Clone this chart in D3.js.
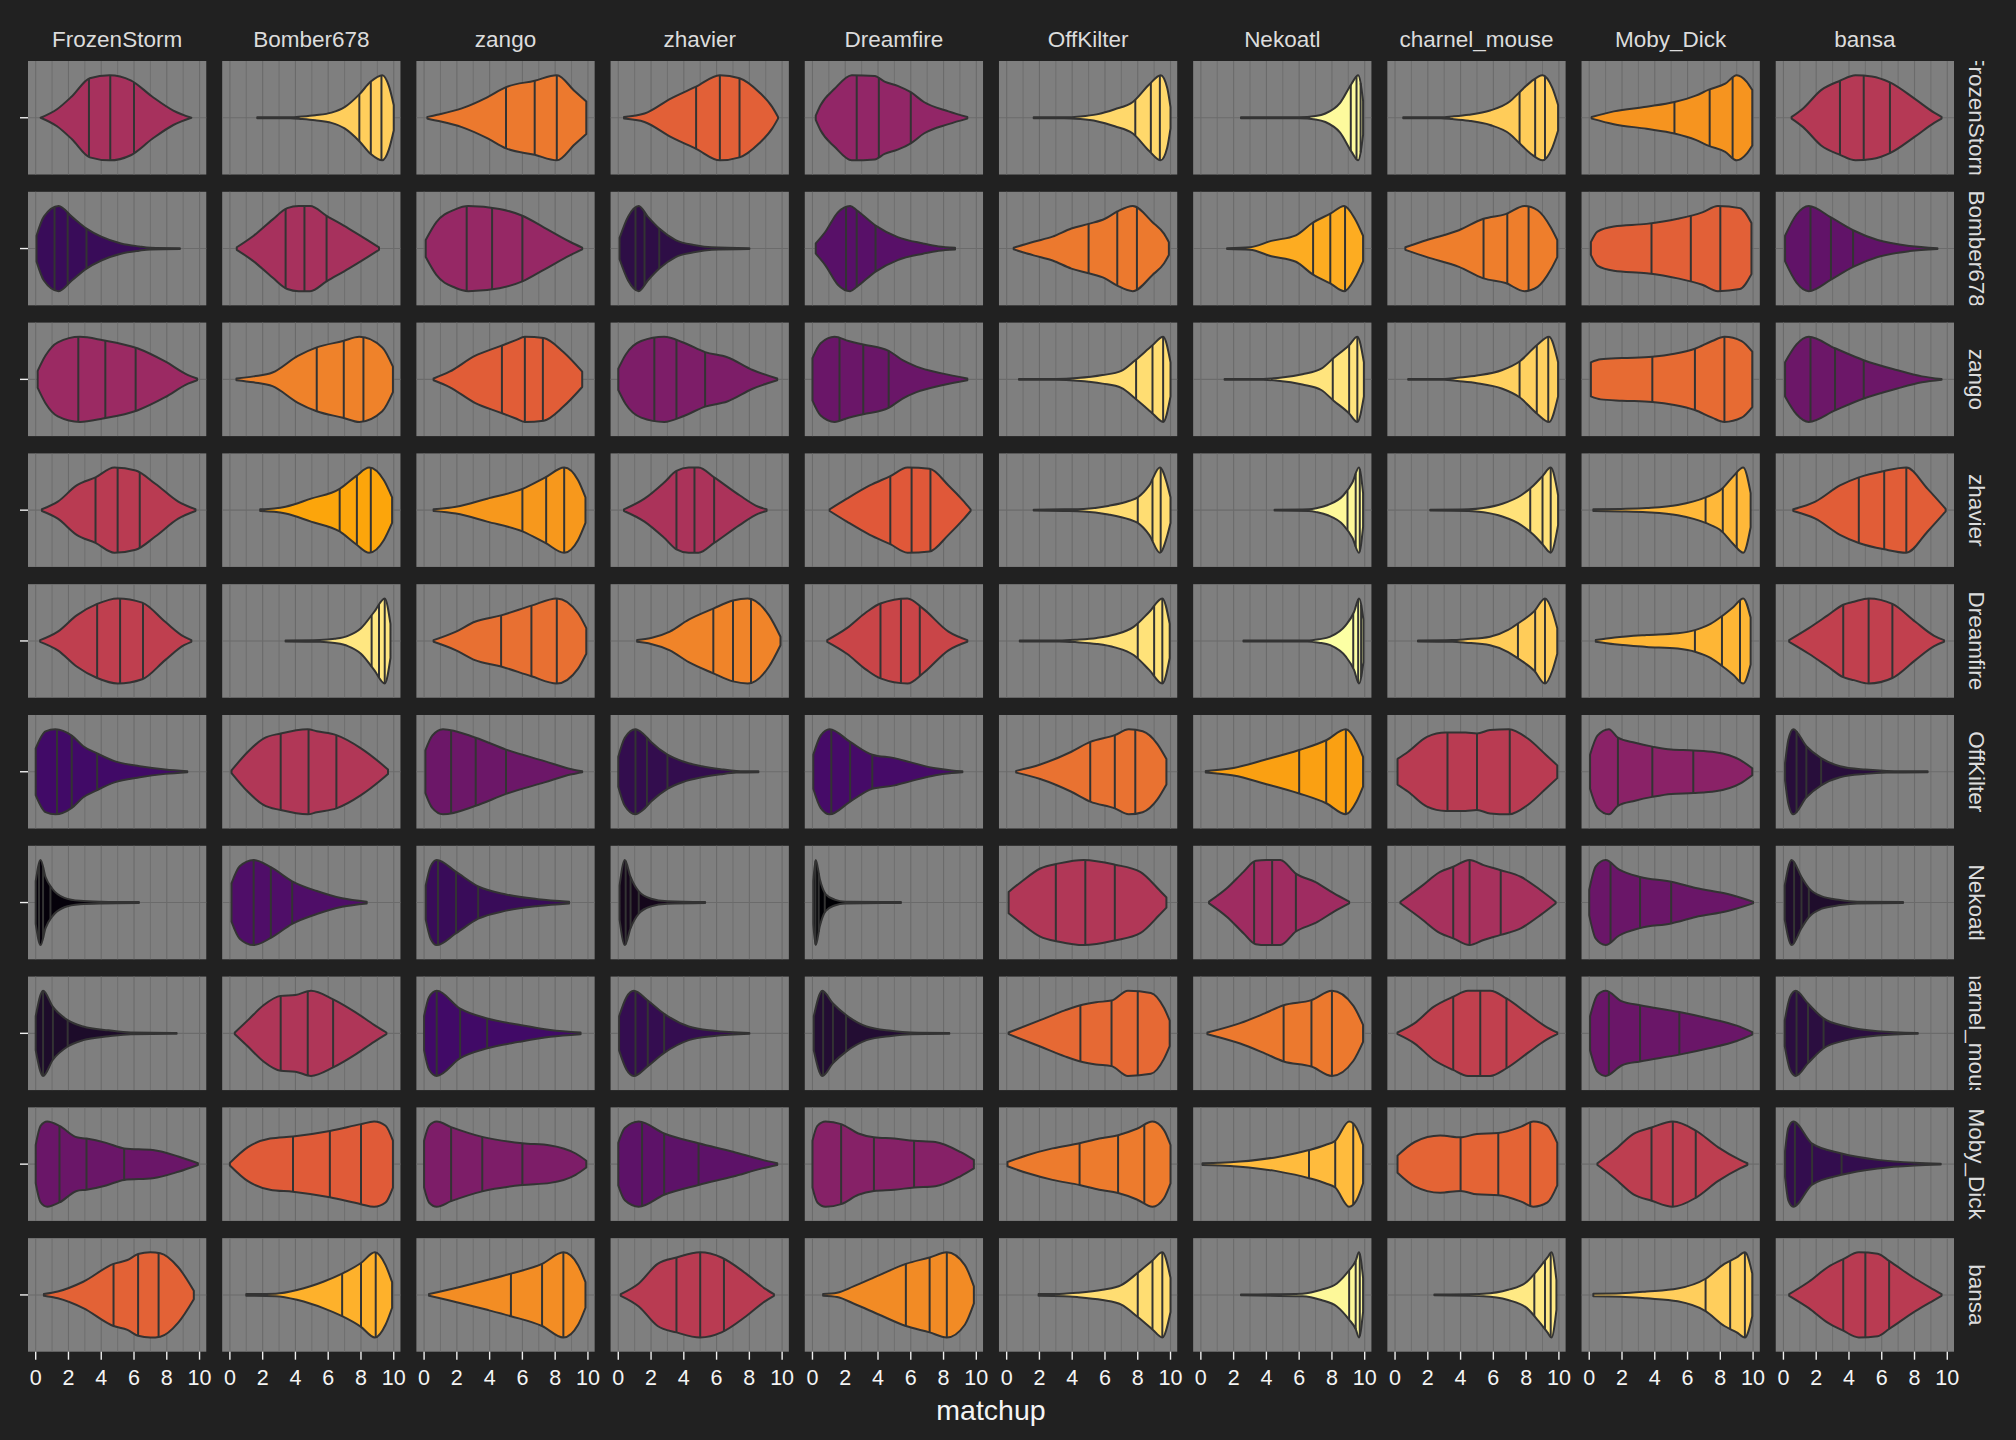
<!DOCTYPE html>
<html>
<head>
<meta charset="utf-8">
<script src="https://cdn.jsdelivr.net/npm/d3@7"></script>
<style>
  html, body { margin: 0; padding: 0; background: #212121; }
  svg { display: block; }
  text { font-family: "Liberation Sans", Arial, sans-serif; }
</style>
</head>
<body>
<script>
// ---------- DATA ----------
const players = ["FrozenStorm","Bomber678","zango","zhavier","Dreamfire","OffKilter","Nekoatl","charnel_mouse","Moby_Dick","bansa"];
const xTicks = [0, 2, 4, 6, 8, 10];
const gridValues = [0,1,2,3,4,5,6,7,8,9,10];
// six-colour inferno palette used by the fill gradient
const palette = ["#000004","#420A68","#932667","#DD513A","#FCA50A","#FCFFA4"];

// quartiles [q25, median, q75] : rows = facet rows (player), cols = facet cols (opponent)
const quartiles = [
  [[3.25,4.55,6.0],[7.9,8.6,9.25],[5.0,6.75,8.1],[4.75,6.2,7.4],[2.7,4.05,6.0],[7.85,8.8,9.35],[9.15,9.5,9.75],[7.6,8.55,9.15],[5.2,7.35,8.75],[3.45,4.9,6.5]],
  [[1.15,1.95,3.1],[3.4,4.55,5.9],[2.6,4.15,6.0],[1.05,1.6,2.5],[2.05,2.7,3.85],[5.0,6.75,7.95],[6.85,7.9,8.8],[5.4,6.85,8.15],[3.8,6.2,8.0],[1.65,2.9,4.25]],
  [[2.6,4.25,6.1],[5.3,6.95,8.15],[4.75,6.15,7.25],[2.2,3.55,5.3],[1.65,3.1,4.65],[7.9,8.9,9.55],[8.05,9.05,9.55],[7.6,8.65,9.35],[3.85,6.45,8.25],[1.65,3.15,4.9]],
  [[3.65,5.0,6.35],[6.7,7.75,8.6],[6.0,7.45,8.55],[3.55,4.65,5.85],[4.75,6.05,7.2],[8.0,8.9,9.4],[8.95,9.45,9.7],[8.25,9.0,9.5],[7.1,8.15,9.0],[4.6,6.15,7.5]],
  [[3.75,5.15,6.55],[8.65,9.1,9.45],[4.7,6.55,8.1],[5.8,7.0,8.1],[4.15,5.4,6.55],[8.0,9.0,9.5],[9.3,9.6,9.78],[7.5,8.55,9.15],[6.45,8.1,9.2],[3.65,5.2,6.65]],
  [[1.3,2.2,3.75],[3.1,4.8,6.5],[1.65,3.15,5.0],[1.05,1.75,3.0],[1.15,2.3,3.65],[5.1,6.6,7.85],[6.0,7.65,8.85],[3.2,5.0,7.0],[1.75,3.85,6.35],[0.8,1.4,2.3]],
  [[0.2,0.45,0.9],[1.45,2.5,3.8],[0.85,1.95,3.3],[0.45,0.75,1.25],[0.18,0.38,0.75],[3.0,4.8,6.6],[3.25,4.35,5.8],[3.55,4.55,6.45],[1.3,3.1,5.0],[0.65,1.1,1.55]],
  [[0.45,1.05,1.95],[3.1,4.75,6.3],[0.77,2.2,3.85],[1.05,1.8,2.8],[0.65,1.25,2.05],[4.5,6.4,8.0],[5.05,6.75,8.0],[3.55,5.2,6.8],[1.2,3.1,5.5],[0.8,1.5,2.45]],
  [[1.45,3.1,5.4],[3.85,6.1,8.0],[1.65,3.55,6.0],[1.45,2.8,4.9],[1.75,3.75,6.2],[4.45,6.8,8.4],[6.6,8.2,9.3],[4.0,6.3,8.25],[3.8,5.1,6.5],[0.7,1.75,3.55]],
  [[4.75,6.25,7.5],[6.85,8.0,8.9],[5.3,7.2,8.5],[3.55,5.0,6.45],[5.7,7.15,8.2],[8.0,8.9,9.5],[9.05,9.45,9.7],[8.5,9.15,9.5],[7.1,8.6,9.5],[3.65,5.0,6.45]]
];

// density outline: [matchup value, relative half-width]
const profiles = [
  [
    [[0.3,0],[1.3,0.2],[2.2,0.5],[3.3,0.93],[4.5,1.0],[5.8,0.88],[7.1,0.5],[8.4,0.17],[9.5,0]],
    [[1.67,0.01],[3.7,0.01],[4.4,0.03],[5.2,0.06],[6.2,0.12],[7.0,0.25],[7.9,0.55],[8.6,0.85],[9.3,1.0],[9.7,0.75],[10.0,0.3]],
    [[0.2,0.02],[0.8,0.07],[2.3,0.22],[3.85,0.48],[5.0,0.72],[6.75,0.87],[8.1,1.0],[9.2,0.62],[9.9,0.38]],
    [[0.35,0.02],[1.6,0.1],[3.2,0.45],[4.75,0.73],[6.2,1.0],[7.4,0.93],[8.6,0.6],[9.4,0.25],[9.75,0.02]],
    [[0.2,0.05],[0.5,0.3],[1.35,0.68],[2.4,1.0],[3.8,0.98],[4.4,0.85],[5.2,0.75],[6.0,0.6],[6.8,0.37],[8.3,0.15],[9.45,0.02]],
    [[1.65,0.01],[3.5,0.01],[4.5,0.03],[5.5,0.08],[6.6,0.2],[7.7,0.37],[8.7,0.78],[9.4,1.0],[9.8,0.7],[10.0,0.25]],
    [[2.45,0.01],[6.0,0.01],[7.0,0.04],[7.6,0.1],[8.5,0.35],[9.2,0.8],[9.6,1.0],[9.9,0.4]],
    [[0.5,0.01],[2.8,0.01],[3.5,0.03],[4.5,0.07],[5.8,0.17],[7.0,0.38],[7.6,0.6],[8.3,0.85],[9.0,1.0],[9.6,0.7],[9.95,0.3]],
    [[0.15,0.02],[1.5,0.15],[3.5,0.26],[5.2,0.37],[6.5,0.52],[7.3,0.66],[8.3,0.8],[9.0,1.0],[9.6,0.85],[9.95,0.65]],
    [[0.5,0.02],[1.2,0.22],[2.3,0.65],[3.45,0.87],[4.4,1.0],[5.4,0.97],[6.5,0.83],[8.0,0.45],[9.2,0.12],[9.65,0.02]]
  ],
  [
    [[0.05,0.3],[0.5,0.75],[1.4,1.0],[2.2,0.75],[3.1,0.47],[4.0,0.28],[5.2,0.12],[6.3,0.05],[7.0,0.02],[8.8,0.01]],
    [[0.42,0.03],[1.45,0.3],[2.6,0.68],[3.5,0.95],[4.2,1.0],[4.9,1.0],[5.9,0.77],[7.25,0.47],[8.4,0.2],[9.1,0.03]],
    [[0.1,0.2],[0.75,0.62],[1.9,0.92],[2.7,1.0],[4.6,0.93],[6.0,0.77],[7.3,0.5],[8.9,0.16],[9.65,0.02]],
    [[0.08,0.25],[0.6,0.75],[1.25,1.0],[1.8,0.75],[2.5,0.47],[3.5,0.2],[4.7,0.08],[5.7,0.03],[8.0,0.01]],
    [[0.2,0.12],[0.8,0.4],[1.55,0.85],[2.3,1.0],[2.7,0.9],[3.85,0.54],[5.2,0.27],[6.75,0.12],[7.7,0.05],[8.7,0.02]],
    [[0.43,0.02],[1.65,0.16],[2.8,0.28],[3.95,0.47],[5.0,0.58],[6.0,0.7],[6.75,0.87],[7.7,1.0],[8.9,0.62],[9.6,0.35],[9.9,0.15]],
    [[1.6,0.01],[3.0,0.03],[4.3,0.18],[5.8,0.31],[6.8,0.6],[7.9,0.82],[8.75,1.0],[9.4,0.7],[9.9,0.3]],
    [[0.63,0.03],[1.95,0.2],[3.9,0.43],[5.4,0.7],[6.75,0.81],[7.9,1.0],[8.7,0.9],[9.5,0.5],[9.9,0.2]],
    [[0.1,0.15],[0.5,0.4],[1.5,0.52],[3.5,0.58],[5.4,0.7],[6.9,0.85],[7.85,1.0],[9.2,0.95],[9.9,0.6]],
    [[0.1,0.3],[0.8,0.8],[1.55,1.0],[2.9,0.73],[4.25,0.43],[5.75,0.2],[7.7,0.06],[9.4,0.01]]
  ],
  [
    [[0.12,0.2],[0.6,0.56],[1.35,0.87],[2.7,1.0],[4.1,0.92],[6.2,0.73],[7.9,0.42],[9.3,0.1],[9.85,0.02]],
    [[0.4,0.02],[1.45,0.07],[2.6,0.16],[4.15,0.55],[5.3,0.75],[6.9,0.9],[7.9,1.0],[9.3,0.75],[9.95,0.3]],
    [[0.58,0.02],[1.55,0.18],[3.1,0.55],[4.65,0.78],[5.6,0.92],[6.15,1.0],[7.3,0.97],[8.5,0.64],[9.65,0.18]],
    [[0.0,0.25],[0.45,0.58],[1.4,0.9],[2.8,1.0],[4.0,0.86],[5.3,0.64],[6.65,0.52],[8.2,0.22],[9.7,0.02]],
    [[0.0,0.5],[0.5,0.85],[1.35,1.0],[2.2,0.9],[3.1,0.82],[4.65,0.67],[5.5,0.45],[6.35,0.3],[7.9,0.14],[9.45,0.02]],
    [[0.75,0.01],[3.0,0.01],[4.3,0.03],[5.85,0.1],[7.0,0.2],[7.85,0.45],[8.9,0.8],[9.55,1.0],[10.0,0.4]],
    [[1.45,0.01],[3.8,0.01],[4.7,0.03],[6.2,0.12],[7.35,0.25],[8.1,0.5],[9.05,0.8],[9.55,1.0],[9.95,0.4]],
    [[0.8,0.01],[3.0,0.01],[3.8,0.04],[5.0,0.09],[6.55,0.22],[7.6,0.42],[8.65,0.8],[9.4,1.0],[9.95,0.4]],
    [[0.1,0.4],[0.7,0.47],[2.0,0.5],[3.85,0.53],[5.2,0.6],[6.45,0.72],[7.5,0.9],[8.25,1.0],[9.3,0.9],[9.95,0.65]],
    [[0.1,0.4],[0.8,0.82],[1.55,1.0],[3.15,0.73],[4.9,0.45],[6.9,0.22],[8.45,0.07],[9.65,0.01]]
  ],
  [
    [[0.38,0.02],[1.35,0.2],[2.5,0.58],[3.65,0.77],[4.8,1.0],[6.1,0.93],[7.3,0.62],[8.7,0.2],[9.75,0.02]],
    [[1.85,0.02],[2.7,0.04],[3.4,0.08],[4.95,0.27],[6.7,0.5],[7.7,0.8],[8.5,1.0],[9.4,0.7],[9.9,0.3]],
    [[0.58,0.02],[1.95,0.08],[3.85,0.27],[6.0,0.5],[7.4,0.77],[8.55,1.0],[9.4,0.7],[9.85,0.3]],
    [[0.35,0.02],[1.6,0.27],[2.8,0.65],[3.55,0.92],[4.3,1.0],[4.9,1.0],[5.85,0.77],[7.4,0.35],[8.55,0.08],[9.05,0.02]],
    [[1.05,0.02],[2.1,0.27],[3.5,0.58],[4.75,0.8],[5.8,1.0],[7.15,0.97],[8.3,0.58],[9.25,0.2],[9.65,0.02]],
    [[1.65,0.01],[3.5,0.02],[4.7,0.03],[6.2,0.1],[7.5,0.22],[8.0,0.3],[8.7,0.58],[9.35,1.0],[9.8,0.6],[10.0,0.3]],
    [[4.5,0.01],[6.6,0.02],[7.1,0.05],[7.75,0.12],[8.7,0.35],[9.25,0.65],[9.65,1.0],[9.9,0.4]],
    [[2.15,0.01],[4.5,0.02],[5.4,0.05],[6.55,0.15],[7.7,0.35],[8.45,0.58],[9.0,0.8],[9.5,1.0],[9.95,0.35]],
    [[0.25,0.02],[1.95,0.03],[3.5,0.05],[5.4,0.12],[7.1,0.3],[8.1,0.5],[8.8,0.8],[9.4,1.0],[9.85,0.4]],
    [[0.6,0.02],[1.95,0.2],[3.45,0.58],[4.6,0.77],[6.15,0.92],[7.5,1.0],[8.8,0.5],[9.9,0.03]]
  ],
  [
    [[0.27,0.02],[1.35,0.22],[2.5,0.6],[3.75,0.87],[5.0,1.0],[6.5,0.9],[7.9,0.45],[9.05,0.1],[9.5,0.02]],
    [[3.4,0.01],[5.5,0.02],[6.4,0.05],[7.2,0.12],[8.0,0.3],[8.8,0.68],[9.45,1.0],[9.8,0.4]],
    [[0.58,0.02],[1.95,0.22],[3.1,0.45],[4.7,0.6],[6.55,0.83],[8.1,1.0],[9.4,0.65],[9.9,0.3]],
    [[1.15,0.02],[2.0,0.07],[3.15,0.22],[4.3,0.5],[5.8,0.76],[7.0,0.95],[7.9,1.0],[9.2,0.6],[9.9,0.1]],
    [[0.9,0.02],[2.1,0.3],[3.3,0.68],[4.15,0.88],[5.8,1.0],[6.75,0.76],[8.3,0.22],[9.45,0.02]],
    [[0.8,0.01],[3.2,0.01],[4.3,0.03],[5.5,0.07],[6.6,0.15],[7.75,0.33],[8.7,0.68],[9.5,1.0],[9.95,0.4]],
    [[2.6,0.01],[6.5,0.01],[7.2,0.04],[7.9,0.1],[8.85,0.37],[9.35,0.68],[9.65,1.0],[9.92,0.5]],
    [[1.4,0.01],[3.5,0.02],[4.3,0.04],[5.8,0.1],[6.9,0.26],[7.5,0.41],[8.5,0.7],[9.15,1.0],[9.6,0.7],[9.9,0.3]],
    [[0.4,0.02],[1.55,0.08],[3.5,0.14],[5.4,0.18],[6.5,0.26],[7.4,0.4],[8.05,0.57],[8.8,0.8],[9.4,1.0],[9.85,0.55]],
    [[0.35,0.02],[1.55,0.3],[2.7,0.6],[3.65,0.85],[4.3,0.92],[5.2,1.0],[6.65,0.87],[8.05,0.45],[9.2,0.12],[9.8,0.02]]
  ],
  [
    [[0.0,0.55],[0.6,0.95],[1.2,1.0],[2.2,0.85],[2.9,0.6],[3.75,0.43],[4.8,0.25],[6.35,0.13],[7.9,0.05],[9.25,0.01]],
    [[0.1,0.03],[1.1,0.47],[2.05,0.78],[3.1,0.9],[4.75,1.0],[5.3,0.95],[6.5,0.86],[8.0,0.55],[9.2,0.2],[9.65,0.05]],
    [[0.08,0.5],[0.5,0.85],[1.15,1.0],[3.15,0.8],[5.0,0.52],[7.35,0.25],[9.0,0.06],[9.65,0.01]],
    [[0.0,0.35],[0.4,0.8],[1.05,1.0],[1.5,0.9],[2.0,0.7],[3.0,0.4],[3.95,0.24],[5.1,0.13],[6.25,0.06],[7.2,0.02],[8.55,0.01]],
    [[0.05,0.4],[0.5,0.85],[1.05,1.0],[2.3,0.7],[3.65,0.4],[5.0,0.32],[6.0,0.22],[7.5,0.08],[8.5,0.03],[9.15,0.01]],
    [[0.58,0.02],[2.05,0.17],[3.95,0.47],[5.1,0.7],[6.6,0.86],[7.45,1.0],[8.3,0.95],[9.2,0.65],[9.75,0.3]],
    [[0.3,0.02],[2.0,0.09],[3.9,0.28],[6.0,0.51],[7.65,0.74],[8.85,1.0],[9.5,0.7],[9.9,0.35]],
    [[0.15,0.3],[0.8,0.47],[1.95,0.82],[3.1,0.92],[4.3,0.92],[5.0,0.9],[5.8,0.98],[6.95,1.0],[8.1,0.78],[9.2,0.4],[9.9,0.15]],
    [[0.05,0.4],[0.5,0.85],[1.2,1.0],[1.75,0.8],[2.8,0.68],[3.85,0.59],[5.0,0.52],[6.35,0.5],[7.7,0.46],[9.2,0.28],[9.95,0.08]],
    [[0.1,0.2],[0.3,0.75],[0.6,1.0],[1.4,0.6],[2.3,0.32],[3.45,0.13],[5.0,0.05],[6.3,0.02],[8.8,0.01]]
  ],
  [
    [[0.0,0.5],[0.3,1.0],[0.6,0.6],[1.0,0.33],[1.75,0.11],[2.7,0.04],[4.0,0.02],[6.3,0.01]],
    [[0.1,0.45],[0.6,0.85],[1.45,1.0],[2.5,0.83],[3.8,0.5],[5.3,0.27],[6.85,0.1],[8.35,0.02]],
    [[0.1,0.4],[0.4,0.85],[0.77,1.0],[1.95,0.72],[3.3,0.38],[5.0,0.19],[6.95,0.08],[8.85,0.02]],
    [[0.08,0.4],[0.4,1.0],[0.75,0.6],[1.25,0.26],[2.0,0.09],[3.0,0.03],[5.3,0.01]],
    [[0.05,0.5],[0.2,1.0],[0.45,0.55],[0.8,0.2],[1.35,0.07],[2.0,0.02],[5.4,0.01]],
    [[0.12,0.25],[0.9,0.49],[2.05,0.8],[3.2,0.92],[4.7,1.0],[6.6,0.89],[8.15,0.72],[9.3,0.3],[9.75,0.12]],
    [[0.5,0.02],[1.6,0.34],[2.6,0.72],[3.35,0.98],[4.0,1.0],[4.85,1.0],[5.8,0.68],[7.0,0.48],[8.1,0.22],[9.05,0.02]],
    [[0.33,0.02],[1.6,0.38],[2.75,0.72],[3.55,0.84],[4.55,1.0],[5.4,0.88],[6.45,0.76],[7.7,0.6],[8.85,0.3],[9.8,0.02]],
    [[0.0,0.3],[0.4,0.85],[1.0,1.0],[1.8,0.78],[3.1,0.6],[5.0,0.49],[6.5,0.34],[8.45,0.2],[10.0,0.02]],
    [[0.08,0.4],[0.5,1.0],[1.1,0.6],[1.55,0.34],[2.3,0.15],[3.45,0.06],[4.5,0.02],[7.3,0.01]]
  ],
  [
    [[0.0,0.4],[0.45,1.0],[1.05,0.62],[1.95,0.31],[2.9,0.16],[4.45,0.07],[5.8,0.02],[8.6,0.01]],
    [[0.3,0.02],[1.1,0.31],[2.05,0.66],[3.1,0.88],[4.0,0.9],[4.95,1.0],[6.3,0.8],[7.65,0.5],[8.8,0.2],[9.55,0.02]],
    [[0.0,0.4],[0.3,0.85],[0.77,1.0],[2.2,0.58],[3.85,0.35],[5.8,0.2],[7.7,0.08],[9.55,0.02]],
    [[0.05,0.4],[0.5,0.85],[0.95,1.0],[1.8,0.77],[2.8,0.46],[4.3,0.16],[5.85,0.06],[8.0,0.01]],
    [[0.08,0.4],[0.6,1.0],[1.25,0.7],[2.05,0.43],[3.3,0.16],[4.8,0.06],[6.0,0.02],[8.35,0.01]],
    [[0.12,0.02],[2.05,0.31],[3.55,0.54],[4.5,0.66],[5.45,0.73],[6.4,0.77],[7.4,1.0],[8.8,0.95],[9.6,0.6],[9.95,0.3]],
    [[0.4,0.02],[2.4,0.24],[3.9,0.47],[5.05,0.66],[6.75,0.78],[8.0,1.0],[9.3,0.65],[9.9,0.2]],
    [[0.15,0.02],[1.2,0.24],[2.35,0.62],[3.55,0.86],[4.45,1.0],[5.8,1.0],[6.8,0.82],[8.1,0.46],[9.2,0.16],[9.9,0.02]],
    [[0.05,0.4],[0.5,0.9],[1.0,1.0],[2.0,0.75],[3.1,0.66],[5.5,0.5],[7.3,0.35],[9.0,0.18],[9.95,0.03]],
    [[0.08,0.3],[0.4,0.85],[0.75,1.0],[1.5,0.7],[2.45,0.35],[3.85,0.16],[5.75,0.05],[8.2,0.01]]
  ],
  [
    [[0.0,0.45],[0.3,0.9],[0.7,1.0],[1.45,0.9],[2.5,0.63],[3.1,0.6],[4.3,0.5],[5.4,0.37],[7.15,0.33],[8.7,0.18],[9.9,0.02]],
    [[0.0,0.03],[1.1,0.4],[2.45,0.6],[3.85,0.65],[6.1,0.78],[8.0,0.94],[8.8,1.0],[9.5,0.9],[9.95,0.55]],
    [[0.0,0.55],[0.3,0.9],[0.77,1.0],[1.65,0.87],[3.55,0.64],[6.0,0.49],[7.7,0.44],[9.25,0.25],[9.9,0.08]],
    [[0.0,0.5],[0.4,0.85],[1.25,1.0],[2.8,0.72],[4.9,0.49],[7.0,0.29],[8.8,0.1],[9.7,0.02]],
    [[0.0,0.55],[0.3,0.9],[0.8,1.0],[1.75,0.94],[2.8,0.72],[3.75,0.63],[5.0,0.6],[6.2,0.55],[7.5,0.52],[9.05,0.28],[9.85,0.1]],
    [[0.05,0.05],[1.25,0.21],[2.8,0.37],[4.45,0.49],[5.65,0.6],[6.8,0.68],[7.95,0.83],[8.9,1.0],[9.6,0.8],[10.0,0.45]],
    [[0.1,0.02],[1.2,0.03],[2.4,0.06],[4.7,0.17],[6.6,0.33],[7.6,0.45],[8.2,0.55],[9.05,1.0],[9.5,0.85],[9.9,0.45]],
    [[0.15,0.2],[1.2,0.52],[2.75,0.67],[4.0,0.63],[5.0,0.71],[6.3,0.73],[7.7,0.88],[8.45,1.0],[9.3,0.9],[9.9,0.5]],
    [[0.5,0.02],[1.55,0.33],[2.7,0.71],[3.8,0.86],[5.1,1.0],[6.5,0.79],[7.85,0.4],[9.2,0.1],[9.65,0.02]],
    [[0.1,0.3],[0.3,0.85],[0.6,1.0],[1.75,0.48],[3.55,0.25],[5.75,0.1],[8.0,0.03],[9.6,0.01]]
  ],
  [
    [[0.5,0.02],[1.35,0.08],[2.9,0.31],[4.75,0.73],[5.6,0.82],[6.25,0.96],[7.0,1.0],[7.6,0.98],[8.7,0.65],[9.65,0.1]],
    [[1.0,0.02],[2.8,0.03],[4.15,0.12],[5.7,0.31],[6.85,0.5],[8.0,0.75],[8.85,1.0],[9.5,0.7],[9.9,0.3]],
    [[0.3,0.02],[2.3,0.2],[3.85,0.35],[5.3,0.5],[7.2,0.73],[8.5,1.0],[9.4,0.7],[9.85,0.3]],
    [[0.15,0.02],[1.25,0.27],[2.4,0.73],[3.55,0.88],[5.0,1.0],[6.3,0.88],[7.8,0.5],[8.95,0.15],[9.5,0.02]],
    [[0.65,0.02],[1.5,0.05],[2.5,0.2],[4.05,0.46],[5.7,0.73],[7.15,0.88],[8.2,1.0],[9.3,0.7],[9.85,0.2]],
    [[1.95,0.02],[3.5,0.03],[4.3,0.05],[5.85,0.12],[7.0,0.23],[8.0,0.52],[8.9,0.81],[9.5,1.0],[10.0,0.4]],
    [[2.45,0.01],[6.2,0.03],[7.35,0.12],[8.3,0.27],[9.05,0.58],[9.45,0.8],[9.65,1.0],[9.9,0.4]],
    [[2.4,0.01],[5.4,0.03],[6.9,0.12],[8.05,0.31],[8.75,0.61],[9.3,0.88],[9.55,1.0],[9.85,0.35]],
    [[0.25,0.03],[1.95,0.04],[3.5,0.08],[5.4,0.15],[7.1,0.38],[8.25,0.73],[9.0,0.88],[9.5,1.0],[9.95,0.5]],
    [[0.35,0.02],[1.55,0.31],[2.7,0.65],[3.65,0.84],[4.6,1.0],[5.75,0.97],[6.45,0.8],[8.05,0.38],[9.2,0.12],[9.65,0.02]]
  ]
];

// ---------- LAYOUT ----------
const W = 2016, H = 1440;
const svg = d3.select("body").append("svg").attr("width", W).attr("height", H);
svg.append("rect").attr("width", W).attr("height", H).attr("fill", "#212121");

const colBand = d3.scaleBand().domain(d3.range(players.length)).range([28, 1954]).paddingInner(0.082).paddingOuter(0);
const rowBand = d3.scaleBand().domain(d3.range(players.length)).range([61, 1351.7]).paddingInner(0.132).paddingOuter(0);
const pw = colBand.bandwidth(), ph = rowBand.bandwidth();

const x = d3.scaleLinear().domain([-0.47, 10.41]).range([0, pw]);
const halfMax = 0.375 * ph;
const wScale = d3.scaleLinear().domain([0, 1]).range([0, halfMax]);

// fill: gradient through the six palette colours (Lab interpolation) over the range of medians
const medians = quartiles.flat().map(q => q[1]);
const [mLo, mHi] = d3.extent(medians);
const colour = d3.scaleLinear()
  .domain(palette.map((_, i) => mLo + (mHi - mLo) * i / (palette.length - 1)))
  .range(palette)
  .interpolate(d3.interpolateLab);

const area = d3.area()
  .x(d => x(d[0]))
  .y0(d => wScale(d[1]))
  .y1(d => -wScale(d[1]))
  .curve(d3.curveMonotoneX);
const topLine = d3.line()
  .x(d => x(d[0]))
  .y(d => -wScale(d[1]))
  .curve(d3.curveMonotoneX);

// hidden helper to measure the drawn outline at quantile positions
const measure = svg.append("g").attr("opacity", 0);
function outlineHalfWidth(pts, xv) {
  const node = measure.append("path").attr("d", topLine(pts)).node();
  const L = node.getTotalLength();
  let lo = 0, hi = L;
  for (let i = 0; i < 30; i++) {
    const mid = (lo + hi) / 2;
    if (node.getPointAtLength(mid).x < xv) lo = mid; else hi = mid;
  }
  const y = node.getPointAtLength((lo + hi) / 2).y;
  node.remove();
  return -y;
}

const panelFill = "#7f7f7f", gridCol = "#6b6b6b", outline = "#333333";
const strokeW = 2.0;

for (let r = 0; r < players.length; r++) {
  for (let c = 0; c < players.length; c++) {
    const g = svg.append("g").attr("transform", `translate(${colBand(c)},${rowBand(r)})`);
    g.append("rect").attr("width", pw).attr("height", ph).attr("fill", panelFill);
    g.selectAll("line.vg").data(gridValues).enter().append("line")
      .attr("x1", d => x(d)).attr("x2", d => x(d))
      .attr("y1", 0).attr("y2", ph)
      .attr("stroke", gridCol).attr("stroke-width", d => d % 2 === 0 ? 1.1 : 0.8);
    g.append("line").attr("x1", 0).attr("x2", pw).attr("y1", ph / 2).attr("y2", ph / 2)
      .attr("stroke", gridCol).attr("stroke-width", 1.1);

    const pts = profiles[r][c];
    const q = quartiles[r][c];
    const v = g.append("g").attr("transform", `translate(0,${ph / 2})`);
    v.append("path").attr("d", area(pts))
      .attr("fill", colour(q[1]))
      .attr("stroke", outline).attr("stroke-width", strokeW).attr("stroke-linejoin", "round");
    q.forEach(qv => {
      const hw = outlineHalfWidth(pts, x(qv));
      v.append("line")
        .attr("x1", x(qv)).attr("x2", x(qv))
        .attr("y1", -hw).attr("y2", hw)
        .attr("stroke", outline).attr("stroke-width", strokeW);
    });
  }
}
measure.remove();

// ---------- STRIPS ----------
svg.selectAll("text.colstrip").data(players).enter().append("text")
  .attr("x", (d, i) => colBand(i) + pw / 2).attr("y", 46.5)
  .attr("text-anchor", "middle").attr("font-size", 22.5).attr("fill", "#dcdcdc")
  .text(d => d);

const defs = svg.append("defs");
players.forEach((p, i) => {
  defs.append("clipPath").attr("id", "rs" + i).append("rect")
    .attr("x", 1958).attr("y", rowBand(i)).attr("width", 58).attr("height", ph);
  svg.append("g").attr("clip-path", `url(#rs${i})`)
    .append("text")
    .attr("transform", `translate(1976,${rowBand(i) + ph / 2}) rotate(90)`)
    .attr("text-anchor", "middle").attr("dominant-baseline", "central")
    .attr("font-size", 22.5).attr("fill", "#dcdcdc")
    .text(p);
});

// ---------- AXES ----------
const bottom = rowBand(players.length - 1) + ph;
players.forEach((p, c) => {
  const ax = svg.append("g").attr("transform", `translate(${colBand(c)},${bottom})`);
  ax.selectAll("line").data(xTicks).enter().append("line")
    .attr("x1", d => x(d)).attr("x2", d => x(d)).attr("y1", 0).attr("y2", 8)
    .attr("stroke", "#f0f0f0").attr("stroke-width", 1.4);
  ax.selectAll("text").data(xTicks).enter().append("text")
    .attr("x", d => x(d)).attr("y", 33.5)
    .attr("text-anchor", "middle").attr("font-size", 21.5).attr("fill", "#f4f4f4")
    .text(d => d);
});
players.forEach((p, r) => {
  svg.append("line")
    .attr("x1", colBand(0) - 8).attr("x2", colBand(0))
    .attr("y1", rowBand(r) + ph / 2).attr("y2", rowBand(r) + ph / 2)
    .attr("stroke", "#f0f0f0").attr("stroke-width", 1.4);
});

svg.append("text")
  .attr("x", (colBand(0) + colBand(players.length - 1) + pw) / 2).attr("y", 1420)
  .attr("text-anchor", "middle").attr("font-size", 28.5).attr("fill", "#f4f4f4")
  .text("matchup");
</script>
</body>
</html>
